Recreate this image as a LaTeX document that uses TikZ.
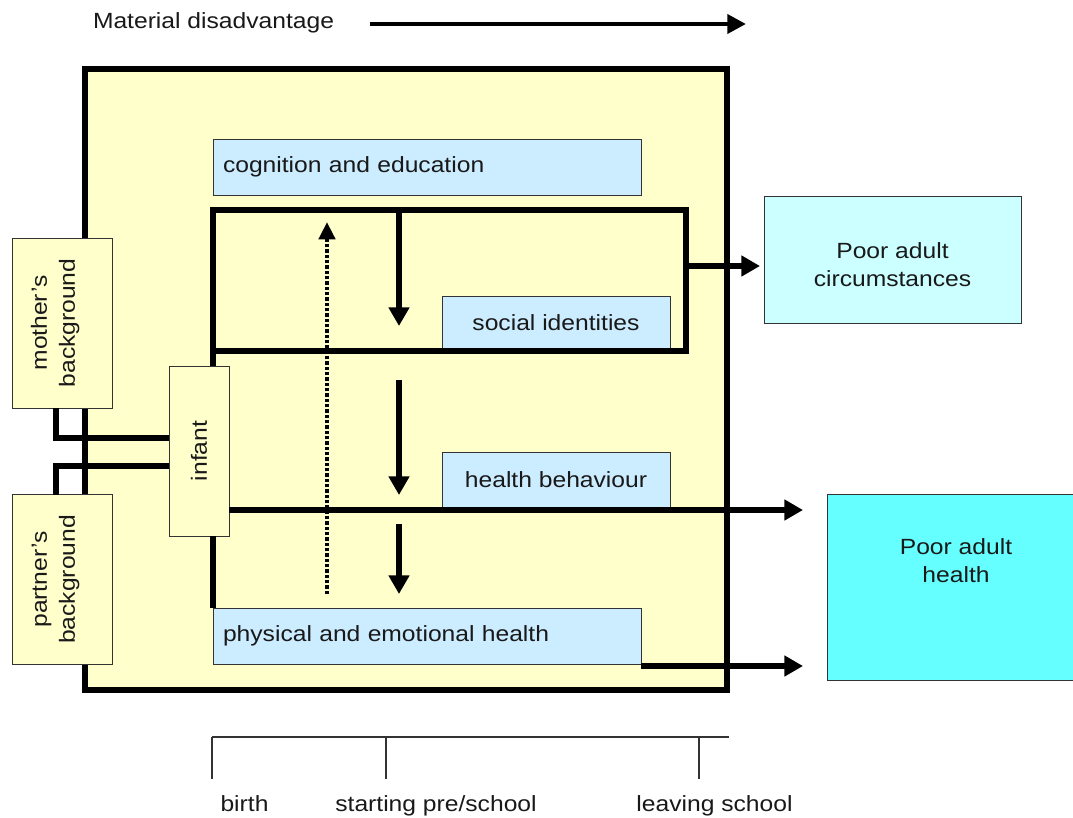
\documentclass[tikz,border=0pt]{standalone}
\usepackage{fontspec}
\setmainfont{Liberation Sans}[FakeStretch=1.12]
\usetikzlibrary{arrows.meta,calc}
\definecolor{yel}{HTML}{FFFFCC}
\definecolor{lblue}{HTML}{CCECFF}
\definecolor{pcyan}{HTML}{CCFFFF}
\definecolor{cyanb}{HTML}{66FFFF}
\begin{document}
\begin{tikzpicture}[x=0.75pt,y=-0.75pt,
  every node/.style={font=\fontsize{16.5}{21}\selectfont, text=black!90, outer sep=0pt},
  tbox/.style={draw=black!80, line width=0.75pt, inner sep=0pt},
  conn/.style={line width=4.1pt},
  arr/.style={conn,-{Triangle[length=14pt,width=15pt]}},
  darr/.style={line width=3.5pt, dash pattern=on 2.5pt off 1.5pt,-{Triangle[length=13pt,width=12pt]}},
  tline/.style={line width=0.9pt, draw=black!80}]
\useasboundingbox (0,0) rectangle (1073,817);

% main box
\node[draw, line width=4.5pt, fill=yel, inner sep=0pt, minimum width=481.875pt, minimum height=465.75pt] (main) at (405.75,379.5) {};

% domain boxes
\node[tbox, fill=lblue, minimum width=321pt, minimum height=42pt, text width=306pt, inner xsep=7.5pt, align=left] (cog) at (427,167) {cognition and education};
\node[tbox, fill=lblue, minimum width=171pt, minimum height=39.75pt] (soc) at (556,322.5) {social identities};
\node[tbox, fill=lblue, minimum width=171pt, minimum height=41.25pt] (hb) at (556,479.5) {health behaviour};
\node[tbox, fill=lblue, minimum width=321pt, minimum height=42pt, text width=306pt, inner xsep=7.5pt, align=left] (phys) at (427,636) {physical and emotional health};

% loop rectangle
\node[draw, line width=4.1pt, inner sep=0pt, minimum width=354.75pt, minimum height=105.75pt] (loop) at (449.5,280.5) {};

% outcome boxes
\node[tbox, fill=pcyan, minimum width=192.75pt, minimum height=95.25pt, align=center] (circ) at (892.5,259.5) {\rule{0pt}{20pt}Poor adult\\circumstances};
\node[tbox, fill=cyanb, minimum width=193.5pt, minimum height=139.5pt] (health) at (956,587) {};
\node[align=center] (healthtxt) at (956,561) {Poor adult\\health};

% background and infant boxes
\node[tbox, fill=yel, minimum width=75pt, minimum height=127.5pt] (mother) at (62,323)
  {\rotatebox{90}{\begin{tabular}{@{}c@{}}mother's\\background\end{tabular}}\kern10pt};
\node[tbox, fill=yel, minimum width=75pt, minimum height=127.5pt] (partner) at (62,579.5)
  {\rotatebox{90}{\begin{tabular}{@{}c@{}}partner's\\background\end{tabular}}\kern10pt};
\node[tbox, fill=yel, minimum width=45pt, minimum height=127.5pt] (infant) at (199,451) {\rotatebox{90}{infant}};

% helper coordinates
\coordinate (xl) at (56,0);
\coordinate (ym) at (0,438);
\coordinate (yp) at (0,466);
\coordinate (ya) at (0,510);
\coordinate (yc) at (0,266);
\coordinate (tipx) at (803,0);

% connectors
\draw[conn] (mother.south -| xl) |- (infant.west |- ym);
\draw[conn] (partner.north -| xl) |- (infant.west |- yp);
\draw[conn] (loop.south west) -- (loop.south west |- infant.north);
\draw[conn] (infant.south -| loop.west) -- (phys.north -| loop.west);
\draw[arr] (infant.east |- ya) -- (tipx |- ya);
\draw[arr] ([yshift=-1.5pt]phys.south east) -- ([yshift=-1.5pt]phys.south east -| tipx);
\draw[arr] (loop.east |- yc) -- ([xshift=-3pt]circ.west |- yc);

% vertical arrows
\coordinate (d1e) at (399,326);
\coordinate (d2s) at (399,380);
\coordinate (d2e) at (399,495);
\coordinate (d3s) at (399,524);
\coordinate (d3e) at (399,594);
\draw[arr] (loop.north -| d1e) -- (d1e);
\draw[arr] (d2s) -- (d2e);
\draw[arr] (d3s) -- (d3e);
\coordinate (ds) at (327,594);
\coordinate (de) at (327,222);
\draw[darr] (ds) -- (de);

% material disadvantage
\node[anchor=base west, inner sep=0pt] (mat) at (93,29) {Material disadvantage};
\coordinate (ms) at (370,24);
\coordinate (me) at (746,24);
\draw[line width=3.5pt,-{Triangle[length=14pt,width=14pt]}] (ms) -- (me);

% timeline
\coordinate (t0) at (212,737);
\coordinate (t1) at (729,737);
\coordinate (k1) at (386,737);
\coordinate (k2) at (699,737);
\coordinate (b0) at (212,779);
\coordinate (b1) at (386,779);
\coordinate (b2) at (699,779);
\draw[tline] (t0) -- (t1);
\draw[tline] (t0) -- (b0);
\draw[tline] (k1) -- (b1);
\draw[tline] (k2) -- (b2);
\node[anchor=base, inner sep=0pt] (birth) at (244.5,811) {birth};
\node[anchor=base, inner sep=0pt] (start) at (436,811) {starting pre/school};
\node[anchor=base, inner sep=0pt] (leave) at (714.5,811) {leaving school};
\end{tikzpicture}
\end{document}
